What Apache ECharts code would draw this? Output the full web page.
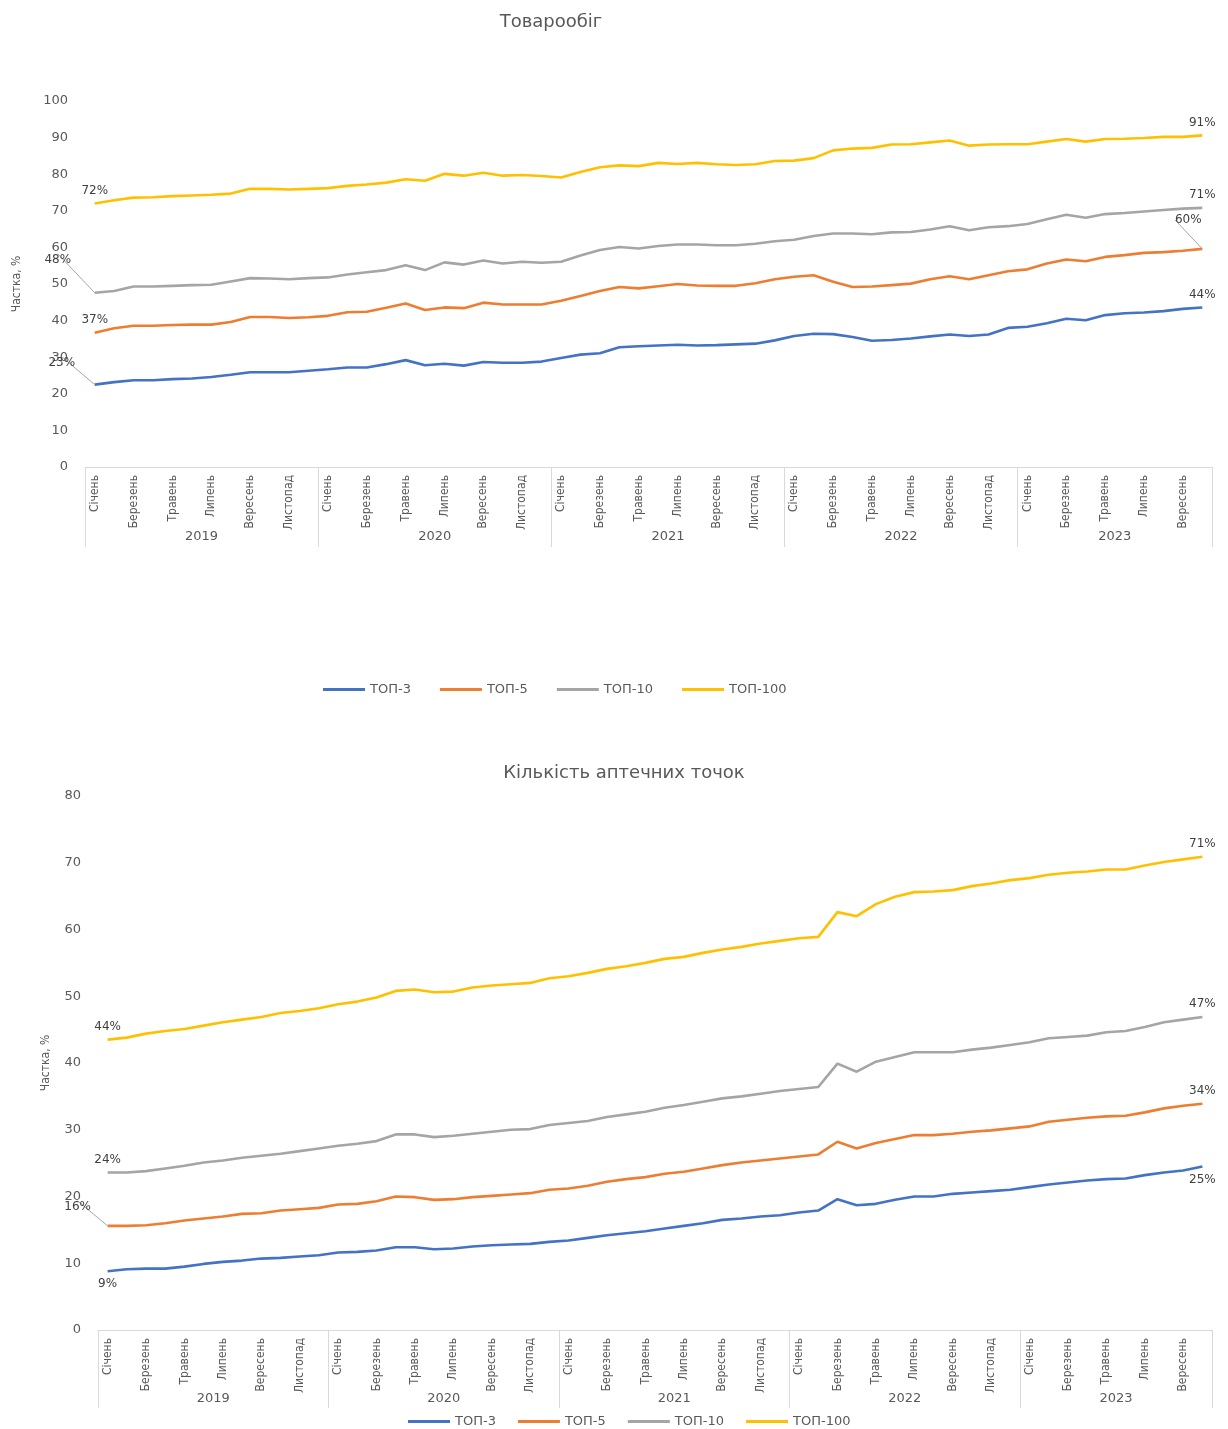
<!DOCTYPE html>
<html>
<head>
<meta charset="utf-8">
<script src="https://cdn.jsdelivr.net/npm/echarts@6/dist/echarts.min.js"></script>
<style>
  html, body { margin: 0; padding: 0; background: #fff; }
  #main { width: 1228px; height: 1429px; }
</style>
</head>
<body>
<div id="main"></div>
<script>
var monthNames = ['Січень', 'Лютий', 'Березень', 'Квітень', 'Травень', 'Червень',
  'Липень', 'Серпень', 'Вересень', 'Жовтень', 'Листопад', 'Грудень'];
var years = ['2019', '2020', '2021', '2022', '2023'];
var seriesNames = ['ТОП-3', 'ТОП-5', 'ТОП-10', 'ТОП-100'];
var colors = ['#4472C4', '#ED7D31', '#A5A5A5', '#FFC000'];

// Товарообіг, частка %
var turnoverTop3 = [22.5, 23.2, 23.7, 23.7, 24.0, 24.2, 24.6, 25.2, 25.9, 25.9,
  25.9, 26.3, 26.7, 27.2, 27.2, 28.1, 29.2, 27.8, 28.2, 27.7,
  28.7, 28.5, 28.5, 28.8, 29.8, 30.7, 31.1, 32.7, 33.0, 33.2,
  33.4, 33.2, 33.3, 33.5, 33.7, 34.6, 35.8, 36.4, 36.3, 35.5,
  34.5, 34.7, 35.1, 35.7, 36.2, 35.8, 36.2, 38.0, 38.3, 39.3,
  40.5, 40.1, 41.5, 42.0, 42.2, 42.6, 43.2, 43.6];
var turnoverTop5 = [36.7, 37.9, 38.6, 38.6, 38.8, 38.9, 38.9, 39.6, 41.0, 41.0,
  40.7, 40.9, 41.3, 42.3, 42.4, 43.5, 44.7, 42.9, 43.6, 43.4,
  44.9, 44.4, 44.4, 44.4, 45.4, 46.7, 48.1, 49.2, 48.8, 49.4,
  50.0, 49.6, 49.5, 49.5, 50.2, 51.3, 52.0, 52.4, 50.6, 49.2,
  49.3, 49.7, 50.1, 51.3, 52.1, 51.3, 52.4, 53.5, 54.0, 55.6,
  56.7, 56.2, 57.4, 57.9, 58.5, 58.7, 59.1, 59.6];
var turnoverTop10 = [47.6, 48.1, 49.3, 49.3, 49.5, 49.7, 49.8, 50.7, 51.6, 51.5,
  51.3, 51.6, 51.8, 52.6, 53.2, 53.8, 55.1, 53.8, 55.9, 55.3,
  56.4, 55.6, 56.1, 55.8, 56.1, 57.8, 59.3, 60.1, 59.7, 60.4,
  60.8, 60.8, 60.6, 60.6, 61.0, 61.7, 62.1, 63.1, 63.8, 63.8,
  63.6, 64.1, 64.2, 64.9, 65.8, 64.7, 65.5, 65.8, 66.4, 67.7,
  68.9, 68.1, 69.1, 69.4, 69.8, 70.2, 70.6, 70.8];
var turnoverTop100 = [72.0, 72.9, 73.6, 73.7, 74.0, 74.2, 74.4, 74.7, 76.0, 76.0,
  75.8, 76.0, 76.2, 76.8, 77.2, 77.7, 78.6, 78.2, 80.1, 79.6,
  80.4, 79.6, 79.8, 79.5, 79.1, 80.6, 81.9, 82.4, 82.2, 83.1,
  82.8, 83.1, 82.7, 82.5, 82.7, 83.6, 83.7, 84.4, 86.5, 87.0,
  87.2, 88.1, 88.2, 88.7, 89.2, 87.8, 88.1, 88.2, 88.2, 88.9,
  89.6, 88.9, 89.6, 89.7, 89.9, 90.2, 90.2, 90.6];

// Кількість аптечних точок, частка %
var pointsTop3 = [8.8, 9.1, 9.2, 9.2, 9.5, 9.9, 10.2, 10.4, 10.7, 10.8,
  11.0, 11.2, 11.6, 11.7, 11.9, 12.4, 12.4, 12.1, 12.2, 12.5,
  12.7, 12.8, 12.9, 13.2, 13.4, 13.8, 14.2, 14.5, 14.8, 15.2,
  15.6, 16.0, 16.5, 16.7, 17.0, 17.2, 17.6, 17.9, 19.6, 18.7,
  18.9, 19.5, 20.0, 20.0, 20.4, 20.6, 20.8, 21.0, 21.4, 21.8,
  22.1, 22.4, 22.6, 22.7, 23.2, 23.6, 23.9, 24.5];
var pointsTop5 = [15.6, 15.6, 15.7, 16.0, 16.4, 16.7, 17.0, 17.4, 17.5, 17.9,
  18.1, 18.3, 18.8, 18.9, 19.3, 20.0, 19.9, 19.5, 19.6, 19.9,
  20.1, 20.3, 20.5, 21.0, 21.2, 21.6, 22.2, 22.6, 22.9, 23.4,
  23.7, 24.2, 24.7, 25.1, 25.4, 25.7, 26.0, 26.3, 28.2, 27.2,
  28.0, 28.6, 29.2, 29.2, 29.4, 29.7, 29.9, 30.2, 30.5, 31.2,
  31.5, 31.8, 32.0, 32.1, 32.6, 33.2, 33.6, 33.9];
var pointsTop10 = [23.6, 23.6, 23.8, 24.2, 24.6, 25.1, 25.4, 25.8, 26.1, 26.4,
  26.8, 27.2, 27.6, 27.9, 28.3, 29.3, 29.3, 28.9, 29.1, 29.4,
  29.7, 30.0, 30.1, 30.7, 31.0, 31.3, 31.9, 32.3, 32.7, 33.3,
  33.7, 34.2, 34.7, 35.0, 35.4, 35.8, 36.1, 36.4, 39.9, 38.7,
  40.2, 40.9, 41.6, 41.6, 41.6, 42.0, 42.3, 42.7, 43.1, 43.7,
  43.9, 44.1, 44.6, 44.8, 45.4, 46.1, 46.5, 46.9];
var pointsTop100 = [43.5, 43.8, 44.4, 44.8, 45.1, 45.6, 46.1, 46.5, 46.9, 47.5,
  47.8, 48.2, 48.8, 49.2, 49.8, 50.8, 51.0, 50.6, 50.7, 51.3,
  51.6, 51.8, 52.0, 52.7, 53.0, 53.5, 54.1, 54.5, 55.0, 55.6,
  55.9, 56.5, 57.0, 57.4, 57.9, 58.3, 58.7, 58.9, 62.6, 62.0,
  63.8, 64.9, 65.6, 65.7, 65.9, 66.5, 66.9, 67.4, 67.7, 68.2,
  68.5, 68.7, 69.0, 69.0, 69.6, 70.1, 70.5, 70.9];

var turnoverData = [turnoverTop3, turnoverTop5, turnoverTop10, turnoverTop100];
var pointsData = [pointsTop3, pointsTop5, pointsTop10, pointsTop100];

var n = turnoverTop3.length;
var categories = [];
var yearCenters = [];
var yearBounds = [0];
for (var y = 0; y < years.length; y++) {
  var start = y * 12;
  var end = Math.min(start + 12, n);
  for (var m = start; m < end; m++) {
    categories.push(monthNames[m - start]);
  }
  yearCenters.push((start + end) / 2);
  yearBounds.push(end);
}

var textColor = '#595959';
var narrowFont = '"Liberation Sans Narrow", "DejaVu Sans Condensed", sans-serif';
var wideFont = '"DejaVu Sans", "Open Sans", sans-serif';

// label tweaks for the first / last point of every series
function labelFor(value, tw) {
  var item = {
    value: value,
    label: { show: true, position: tw.pos || 'top', distance: 7 }
  };
  if (tw.line) {
    item.labelLine = { show: true, lineStyle: { color: '#a6a6a6', width: 1 } };
  }
  return item;
}

function buildSeries(gridIdx, data, firstTw, lastTw) {
  return data.map(function (arr, s) {
    var items = arr.map(function (v, i) {
      if (i === 0) return labelFor(v, firstTw[s]);
      if (i === arr.length - 1) return labelFor(v, lastTw[s]);
      return v;
    });
    return {
      name: seriesNames[s],
      type: 'line',
      xAxisIndex: gridIdx * 2,
      yAxisIndex: gridIdx,
      data: items,
      symbol: 'circle',
      symbolSize: 0,
      showSymbol: true,
      lineStyle: { color: colors[s], width: 2.6 },
      itemStyle: { color: colors[s] },
      label: {
        show: false,
        color: '#404040',
        fontSize: 12,
        fontFamily: wideFont,
        formatter: function (p) { return Math.round(p.value) + '%'; }
      },
      labelLayout: function (p) {
        var tw = p.dataIndex === 0 ? firstTw[s] : lastTw[s];
        return { dx: tw.dx || 0, dy: tw.dy || 0 };
      },
      emphasis: { disabled: true }
    };
  });
}

function xAxes(gridIdx, tickLen, yearMargin) {
  return [
    {
      type: 'category',
      gridIndex: gridIdx,
      data: categories,
      boundaryGap: true,
      axisLine: { show: true, lineStyle: { color: '#d9d9d9' } },
      axisTick: { show: false },
      axisLabel: {
        interval: 1,
        rotate: 90,
        margin: 8,
        color: textColor,
        fontSize: 12,
        fontFamily: narrowFont
      }
    },
    {
      type: 'value',
      gridIndex: gridIdx,
      min: 0,
      max: n,
      position: 'bottom',
      axisLine: { show: false },
      splitLine: { show: false },
      axisTick: {
        show: true,
        customValues: yearBounds,
        length: tickLen,
        lineStyle: { color: '#d9d9d9' }
      },
      axisLabel: {
        customValues: yearCenters,
        margin: yearMargin,
        color: textColor,
        fontSize: 13,
        fontFamily: wideFont,
        formatter: function (v) { return years[yearCenters.indexOf(v)]; }
      }
    }
  ];
}

function yAxis(gridIdx, max, gap) {
  return {
    type: 'value',
    gridIndex: gridIdx,
    min: 0,
    max: max,
    interval: 10,
    name: 'Частка, %',
    nameLocation: 'middle',
    nameGap: gap,
    nameTextStyle: { color: textColor, fontSize: 12, fontFamily: narrowFont },
    axisLine: { show: false },
    axisTick: { show: false },
    splitLine: { show: false },
    axisLabel: { color: textColor, fontSize: 13, fontFamily: wideFont, margin: 17 }
  };
}

var legendBase = {
  data: seriesNames,
  icon: 'rect',
  itemWidth: 42,
  itemHeight: 3,
  textStyle: { color: textColor, fontSize: 13, fontFamily: wideFont },
  selectedMode: false
};

var topFirst = [{ dx: -33, dy: -9, line: true }, {}, { dx: -37, dy: -20, line: true }, {}];
var topLast = [{}, { dx: -14, dy: -16, line: true }, {}, {}];
var botFirst = [{ pos: 'bottom' }, { dx: -30, dy: -6, line: true }, {}, {}];
var botLast = [{ pos: 'bottom' }, {}, {}, {}];

var chart = echarts.init(document.getElementById('main'));
var xs = xAxes(0, 80, 63).concat(xAxes(1, 78, 62));
var titleStyle = { color: textColor, fontSize: 18, fontWeight: 'normal', fontFamily: wideFont };

var option = {
  animation: false,
  backgroundColor: '#fff',
  title: [
    { text: 'Товарообіг', left: 546, top: 8, textAlign: 'center', textStyle: titleStyle },
    { text: 'Кількість аптечних точок', left: 619, top: 759, textAlign: 'center', textStyle: titleStyle }
  ],
  legend: [
    Object.assign({ left: 318, top: 678, itemGap: 29 }, legendBase),
    Object.assign({ left: 403, top: 1410, itemGap: 22 }, legendBase)
  ],
  grid: [
    { left: 85, right: 16, top: 101, height: 366 },
    { left: 98, right: 16, top: 796, height: 534 }
  ],
  xAxis: xs,
  yAxis: [yAxis(0, 100, 62), yAxis(1, 80, 46)],
  series: buildSeries(0, turnoverData, topFirst, topLast)
    .concat(buildSeries(1, pointsData, botFirst, botLast))
};

chart.setOption(option);
</script>
</body>
</html>
